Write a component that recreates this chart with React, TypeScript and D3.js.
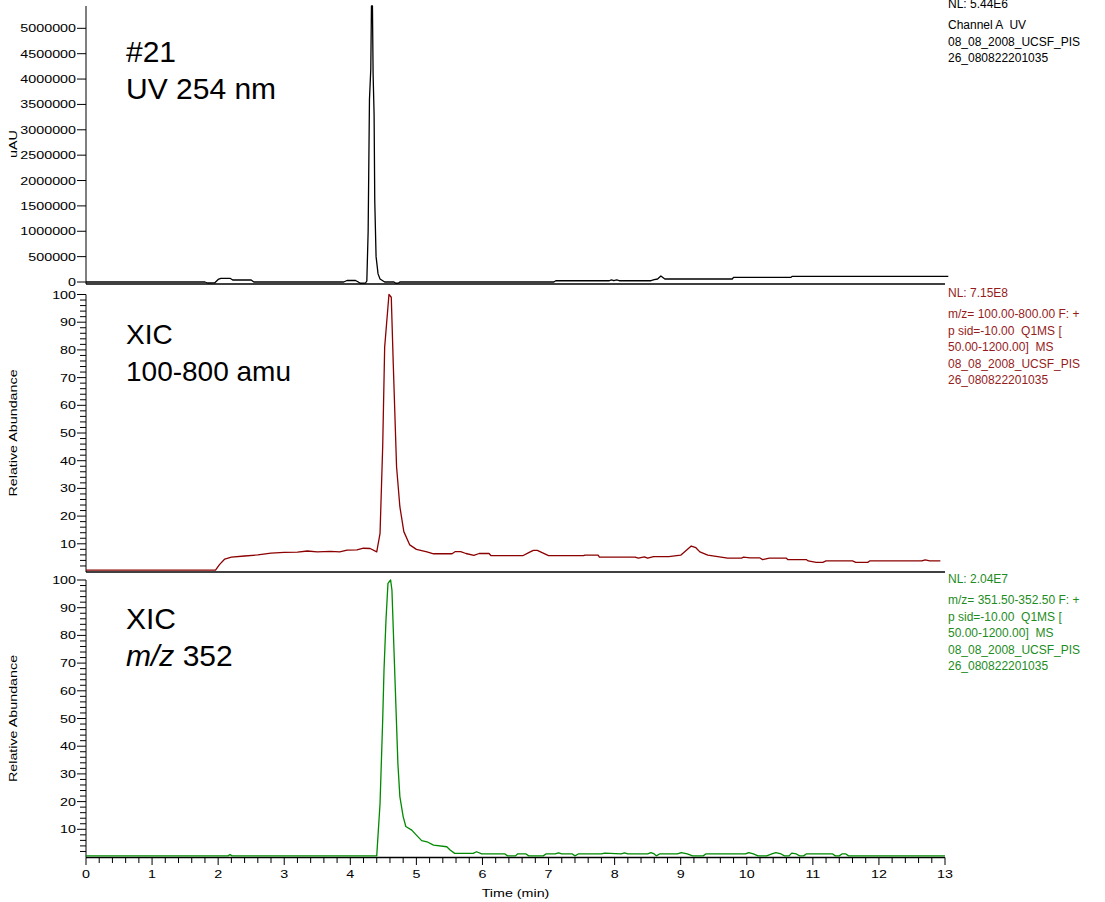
import React from "react";
import * as d3 from "d3";

// ---- Data (time in min, signal) ----
const uvTrace: [number, number][] = [
  [0, 0], [1.8, 0], [1.84, -20000], [1.95, -15000], [2.0, 50000], [2.04, 73000], [2.18, 73000],
  [2.22, 39000], [2.5, 39000], [2.54, 0], [3.9, 0], [3.95, 30000], [4.08, 30000], [4.12, 0],
  [4.15, -25000], [4.23, -20000], [4.25, 20000], [4.27, 1000000], [4.29, 3600000], [4.31, 4200000],
  [4.32, 5440000], [4.335, 5440000], [4.345, 4100000], [4.36, 3300000], [4.37, 1600000],
  [4.39, 500000], [4.42, 160000], [4.45, 60000], [4.52, 0], [4.66, 0], [4.69, -25000], [4.73, -20000],
  [4.75, 0], [7.08, 0], [7.11, 25000], [7.92, 25000], [7.95, 40000], [7.99, 25000], [8.03, 40000],
  [8.07, 25000], [8.55, 25000], [8.6, 45000], [8.65, 59000], [8.7, 118000], [8.76, 59000],
  [9.78, 59000], [9.8, 93000], [10.67, 93000], [10.69, 112000], [13.05, 112000],
];

const xicTrace: [number, number][] = [
  [0, 0.5], [1.96, 0.5], [2.02, 2.5], [2.1, 4.5], [2.2, 5.2], [2.4, 5.6], [2.6, 6.0], [2.8, 6.6],
  [3.0, 6.9], [3.2, 7.0], [3.35, 7.4], [3.5, 7.1], [3.7, 7.3], [3.84, 7.1], [3.95, 7.7], [4.1, 7.8],
  [4.2, 8.4], [4.3, 8.3], [4.4, 7.1], [4.45, 13.8], [4.49, 45], [4.52, 81], [4.585, 100], [4.62, 99],
  [4.65, 75], [4.7, 37.8], [4.75, 23.4], [4.81, 14.4], [4.9, 9.6], [5.0, 8.0], [5.16, 7.1], [5.26, 6.4],
  [5.54, 6.4], [5.59, 7.2], [5.67, 7.2], [5.75, 6.5], [5.87, 5.8], [5.95, 6.5], [6.1, 6.5], [6.13, 5.7],
  [6.61, 5.7], [6.7, 6.8], [6.77, 7.6], [6.83, 7.6], [7.0, 5.7], [7.53, 5.7], [7.55, 5.9], [7.75, 5.9],
  [7.77, 5.2], [8.31, 5.2], [8.36, 4.8], [8.45, 5.3], [8.5, 4.8], [8.59, 5.4], [8.82, 5.4], [9.0, 5.9],
  [9.16, 9.2], [9.23, 8.6], [9.29, 7.1], [9.41, 5.9], [9.56, 5.4], [9.71, 4.8], [9.92, 4.8], [9.95, 5.2],
  [10.05, 4.9], [10.2, 4.9], [10.24, 4.3], [10.34, 4.8], [10.6, 4.8], [10.62, 4.3], [10.9, 4.3],
  [10.93, 3.8], [11.05, 3.3], [11.15, 3.3], [11.2, 3.8], [11.6, 3.8], [11.65, 3.3], [11.83, 3.3],
  [11.86, 3.8], [12.65, 3.8], [12.7, 4.2], [12.77, 3.8], [12.93, 3.8],
];

const mz352Trace: [number, number][] = [
  [0, 0.4], [2.15, 0.4], [2.18, 0.9], [2.21, 0.4], [4.4, 0.4], [4.45, 19.3], [4.49, 49.4], [4.51, 67.5],
  [4.54, 85.6], [4.57, 98.8], [4.61, 100], [4.63, 96.4], [4.68, 61.5], [4.72, 33.8], [4.75, 21.8],
  [4.8, 14.6], [4.84, 11.0], [4.93, 9.7], [5.0, 7.9], [5.08, 5.9], [5.16, 5.5], [5.26, 4.3], [5.46, 3.7],
  [5.51, 2.5], [5.58, 1.3], [5.86, 1.3], [5.91, 1.9], [5.99, 1.1], [6.34, 1.1], [6.38, 0.4], [6.5, 0.4],
  [6.53, 1.1], [6.66, 1.1], [6.7, 0.4], [6.92, 0.4], [6.96, 1.1], [7.1, 1.1], [7.15, 1.5], [7.2, 1.1],
  [7.36, 1.1], [7.4, 0.4], [7.45, 1.1], [7.8, 1.1], [7.85, 1.4], [8.1, 1.1], [8.15, 1.5], [8.2, 1.1],
  [8.5, 1.1], [8.55, 1.6], [8.6, 1.1], [8.63, 0.4], [8.68, 1.1], [8.95, 1.1], [9.01, 1.6], [9.1, 1.1],
  [9.18, 0.4], [9.34, 0.4], [9.38, 1.1], [9.98, 1.1], [10.03, 1.6], [10.1, 1.1], [10.17, 0.4], [10.3, 0.4],
  [10.38, 1.1], [10.44, 1.6], [10.52, 1.1], [10.57, 0.4], [10.64, 0.4], [10.68, 1.4], [10.75, 1.1],
  [10.8, 0.4], [10.86, 0.4], [10.9, 1.1], [11.3, 1.1], [11.34, 0.4], [11.4, 0.4], [11.44, 1.1],
  [11.5, 1.1], [11.54, 0.4], [13.0, 0.4],
];

const uvTicks = [0, 500000, 1000000, 1500000, 2000000, 2500000, 3000000, 3500000, 4000000, 4500000, 5000000];
const relTicks = [10, 20, 30, 40, 50, 60, 70, 80, 90, 100];
const timeTicks = [0, 1, 2, 3, 4, 5, 6, 7, 8, 9, 10, 11, 12, 13];

const uvInfo = ["NL: 5.44E6", "Channel A  UV", "08_08_2008_UCSF_PIS", "26_080822201035"];
const xicInfo = ["NL: 7.15E8", "m/z= 100.00-800.00 F: +", "p sid=-10.00  Q1MS [", "50.00-1200.00]  MS", "08_08_2008_UCSF_PIS", "26_080822201035"];
const mzInfo = ["NL: 2.04E7", "m/z= 351.50-352.50 F: +", "p sid=-10.00  Q1MS [", "50.00-1200.00]  MS", "08_08_2008_UCSF_PIS", "26_080822201035"];

const FONT = "'Liberation Sans', Arial, sans-serif";
const SX = 1.3;

const x = d3.scaleLinear().domain([0, 13]).range([86, 945]);

type Panel = {
  trace: [number, number][];
  y: d3.ScaleLinear<number, number>;
  color: string;
  textColor: string;
  border: number;
  ticks: number[];
  minor: boolean;
  yTitle: string;
  info: string[];
  infoTop: number;
  title: React.ReactNode[];
  titleY: number[];
  titleSize: number;
};

const panels: Panel[] = [
  {
    trace: uvTrace, y: d3.scaleLinear().domain([0, 5440000]).range([282, 6]),
    color: "#000", textColor: "#000", border: 284, ticks: uvTicks, minor: false, yTitle: "uAU",
    info: uvInfo, infoTop: 8,
    title: ["#21", "UV 254 nm"], titleY: [62, 99], titleSize: 30,
  },
  {
    trace: xicTrace, y: d3.scaleLinear().domain([0, 100]).range([571.5, 294.5]),
    color: "#8b0000", textColor: "#951c1c", border: 572, ticks: relTicks, minor: true, yTitle: "Relative Abundance",
    info: xicInfo, infoTop: 297,
    title: ["XIC", "100-800 amu"], titleY: [344, 381], titleSize: 28,
  },
  {
    trace: mz352Trace, y: d3.scaleLinear().domain([0, 100]).range([857, 580]),
    color: "#008a00", textColor: "#1e8c1e", border: 857.5, ticks: relTicks, minor: true, yTitle: "Relative Abundance",
    info: mzInfo, infoTop: 583,
    title: ["XIC", <><tspan fontStyle="italic">m/z</tspan> 352</>], titleY: [629, 666], titleSize: 30,
  },
];

function PanelView({ p }: { p: Panel }) {
  const line = d3.line<[number, number]>().x((d) => x(d[0])).y((d) => p.y(d[1]));
  const [d0, d1] = p.y.domain();
  const yTop = p.y(d1);
  const yBot = p.y(d0);
  const minorTicks = p.minor ? d3.range(2, 100, 2).filter((v) => v % 10 !== 0) : [];
  const cy = (yTop + yBot) / 2;
  return (
    <g>
      <line x1={86} x2={86} y1={yTop} y2={p.border} stroke="#000" strokeWidth={1} />
      <line x1={86} x2={945} y1={p.border} y2={p.border} stroke="#000" strokeWidth={1.3} />
      {p.ticks.map((t) => (
        <g key={t}>
          <line x1={77} x2={86} y1={p.y(t)} y2={p.y(t)} stroke="#000" />
          <text transform={`translate(76,${p.y(t) + 4}) scale(${SX},1)`} textAnchor="end" fontSize={11} fontFamily={FONT} fill="#000">
            {String(t)}
          </text>
        </g>
      ))}
      {minorTicks.map((t) => (
        <line key={"m" + t} x1={80} x2={86} y1={p.y(t)} y2={p.y(t)} stroke="#000" />
      ))}
      <text transform={`translate(17,${cy}) rotate(-90) scale(${SX},1)`} textAnchor="middle" fontSize={11} fontFamily={FONT} fill="#000">
        {p.yTitle}
      </text>
      <path d={line(p.trace) || ""} fill="none" stroke={p.color} strokeWidth={1.3} strokeLinejoin="round" />
      {p.title.map((t, i) => (
        <text key={i} x={126} y={p.titleY[i]} fontSize={p.titleSize} fontFamily={FONT} fill="#000">{t}</text>
      ))}
      {p.info.map((s, i) => (
        <text key={i} x={948} y={p.infoTop + (i === 0 ? 0 : 21 + (i - 1) * 16.6)} fontSize={12} fontFamily={FONT}
          fill={p.textColor} style={{ whiteSpace: "pre" }}>
          {s}
        </text>
      ))}
    </g>
  );
}

export default function App() {
  const minorX = d3.range(0, 13.0001, 0.2).filter((v) => Math.abs(v - Math.round(v)) > 1e-6);
  return (
    <svg width={1105} height={902} style={{ position: "absolute", left: 0, top: 0, background: "#fff" }}>
      <rect width={1105} height={902} fill="#fff" />
      {panels.map((p, i) => <PanelView key={i} p={p} />)}
      {timeTicks.map((t) => (
        <g key={t}>
          <line x1={x(t)} x2={x(t)} y1={857.5} y2={865} stroke="#000" />
          <text transform={`translate(${x(t)},878) scale(${SX},1)`} textAnchor="middle" fontSize={11} fontFamily={FONT}>{String(t)}</text>
        </g>
      ))}
      {minorX.map((t, i) => (
        <line key={"mx" + i} x1={x(t)} x2={x(t)} y1={857.5} y2={863} stroke="#000" />
      ))}
      <text transform={`translate(515.5,897) scale(${SX},1)`} textAnchor="middle" fontSize={11} fontFamily={FONT}>Time (min)</text>
    </svg>
  );
}
